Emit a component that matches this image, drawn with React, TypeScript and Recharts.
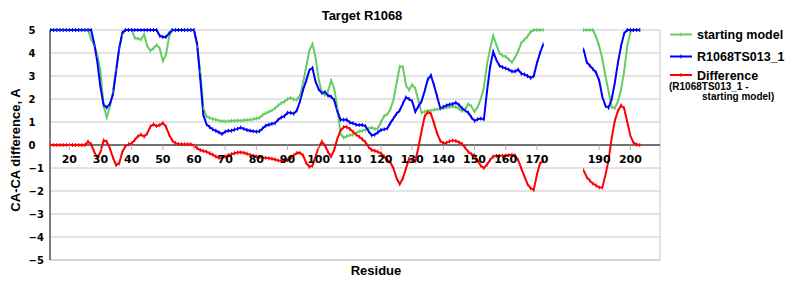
import React from 'react';
import { LineChart, Line, XAxis, YAxis, CartesianGrid, ReferenceLine } from 'recharts';

// Residue numbering starts at 14; one value per residue (14..203), null = missing
const FIRST_RESIDUE = 14;

const startingModel: (number | null)[] = [
  /*14*/ 5, 5, 5, 5, 5, 5,
  /*20*/ 5, 5, 5, 5, 5, 5, 5, 4.6, 4.35, 3.9,
  /*30*/ 3.2, 1.7, 1.2, 1.65, 2.3, 3.25, 4.2, 4.8, 5, 5,
  /*40*/ 5, 4.66, 4.62, 4.58, 4.8, 4.3, 4.1, 4.2, 4.35, 4.2,
  /*50*/ 3.65, 3.93, 4.7, 5, 5, 5, 5, 5, 5, 5,
  /*60*/ 5, 4.3, 3.2, 1.6, 1.25, 1.18, 1.13, 1.1, 1.06, 1.04,
  /*70*/ 1.02, 1.03, 1.05, 1.05, 1.06, 1.06, 1.08, 1.09, 1.1, 1.12,
  /*80*/ 1.15, 1.18, 1.3, 1.38, 1.44, 1.5, 1.6, 1.72, 1.83, 1.88,
  /*90*/ 2.0, 2.05, 1.98, 1.97, 2.15, 2.7, 3.4, 4.1, 4.4, 3.8,
  /*100*/ 2.85, 2.3, 2.18, 2.35, 2.8, 2.45, 1.6, 0.5, 0.32, 0.38,
  /*110*/ 0.42, 0.45, 0.52, 0.6, 0.62, 0.66, 0.72, 0.76, 0.7, 0.72,
  /*120*/ 1.0, 1.26, 1.34, 1.55, 1.97, 2.7, 3.4, 3.4, 2.6, 2.4,
  /*130*/ 2.62, 2.45, 1.92, 1.4, 1.45, 1.48, 1.5, 1.53, 1.55, 1.57,
  /*140*/ 1.6, 1.63, 1.65, 1.67, 1.65, 1.58, 1.48, 1.55, 1.78, 1.68,
  /*150*/ 1.45, 1.65, 2.0, 2.5, 3.5, 4.2, 4.75, 4.35, 4.0, 3.88,
  /*160*/ 3.85, 3.72, 3.6, 3.8, 4.08, 4.44, 4.58, 4.72, 4.92, 5,
  /*170*/ 5, 5, 5, null, null, null, null, null, null, null,
  /*180*/ null, null, null, null, null, 5, 5, 5, 5, 4.7,
  /*190*/ 4.3, 3.75, 3.0, 2.33, 1.65, 1.6, 1.9, 2.4, 3.2, 4.3,
  /*200*/ 4.9, 5, 5, 5,
];

const r1068TS013: (number | null)[] = [
  /*14*/ 5, 5, 5, 5, 5, 5,
  /*20*/ 5, 5, 5, 5, 5, 5, 5, 5, 4.4, 3.6,
  /*30*/ 2.5, 1.75, 1.63, 1.78, 2.2, 3.2, 4.2, 4.88, 5, 5,
  /*40*/ 5, 5, 5, 5, 5, 5, 5, 5, 5, 4.75,
  /*50*/ 4.7, 4.7, 4.85, 5, 5, 5, 5, 5, 5, 5,
  /*60*/ 5, 4.4, 2.9, 1.3, 0.9, 0.78, 0.68, 0.62, 0.55, 0.48,
  /*70*/ 0.58, 0.62, 0.62, 0.67, 0.7, 0.76, 0.7, 0.65, 0.62, 0.6,
  /*80*/ 0.58, 0.6, 0.72, 0.84, 0.88, 0.92, 0.95, 1.1, 1.2, 1.25,
  /*90*/ 1.4, 1.4, 1.36, 1.5, 1.9, 2.4, 2.8, 3.25, 3.35, 2.75,
  /*100*/ 2.42, 2.26, 2.3, 2.15, 2.1, 1.95, 1.46, 1.1, 1.1, 1.1,
  /*110*/ 0.98, 0.95, 0.88, 0.87, 0.87, 0.82, 0.6, 0.42, 0.45, 0.55,
  /*120*/ 0.65, 0.68, 0.72, 0.95, 1.16, 1.36, 1.5, 1.8, 2.07, 2.0,
  /*130*/ 1.9, 1.45, 1.68, 1.9, 2.35, 2.85, 3.03, 2.6, 2.11, 1.6,
  /*140*/ 1.66, 1.72, 1.76, 1.78, 1.84, 1.75, 1.6, 1.5, 1.4, 1.2,
  /*150*/ 1.05, 1.12, 1.15, 1.12, 2.33, 3.4, 4.05, 3.7, 3.45, 3.38,
  /*160*/ 3.33, 3.28, 3.2, 3.2, 3.28, 3.1, 3.07, 3.0, 2.92, 3.0,
  /*170*/ 3.55, 4.0, 4.37, null, null, null, null, null, null, null,
  /*180*/ null, null, null, null, null, 4.15, 3.6, 3.45, 3.3, 3.15,
  /*190*/ 2.8, 2.1, 1.7, 1.62, 2.0, 2.7, 3.57, 4.3, 4.85, 5,
  /*200*/ 5, 5, 5, 5,
];

const difference: (number | null)[] = [
  /*14*/ 0, 0, 0, 0, 0, 0,
  /*20*/ 0, 0, 0, 0, 0, 0, 0.15, 0.03, -0.3, -0.55,
  /*30*/ -0.3, 0.2, 0.15, -0.15, -0.55, -0.87, -0.8, -0.3, -0.05, 0.03,
  /*40*/ 0.07, 0.22, 0.38, 0.45, 0.37, 0.5, 0.8, 0.9, 0.82, 0.87,
  /*50*/ 0.95, 0.8, 0.45, 0.2, 0.08, 0.04, 0.03, 0.03, 0.03, 0.03,
  /*60*/ -0.03, -0.14, -0.22, -0.26, -0.29, -0.36, -0.42, -0.5, -0.56, -0.55,
  /*70*/ -0.5, -0.44, -0.4, -0.36, -0.33, -0.32, -0.34, -0.38, -0.43, -0.47,
  /*80*/ -0.5, -0.52, -0.54, -0.56, -0.58, -0.6, -0.63, -0.67, -0.69, -0.7,
  /*90*/ -0.66, -0.58, -0.45, -0.35, -0.34, -0.45, -0.78, -0.95, -0.9, -0.5,
  /*100*/ -0.1, 0.15, -0.02, -0.3, -0.5, -0.2, 0.28, 0.62, 0.78, 0.78,
  /*110*/ 0.7, 0.58, 0.45, 0.36, 0.25, 0.12, -0.08, -0.22, -0.25, -0.3,
  /*120*/ -0.36, -0.5, -0.65, -0.76, -1.02, -1.45, -1.7, -1.45, -1.02, -0.6,
  /*130*/ -0.65, -0.7, -0.1, 0.6, 1.24, 1.43, 1.36, 0.95, 0.5, 0.18,
  /*140*/ 0.08, 0.1, 0.16, 0.2, 0.18, 0.12, 0.05, -0.12, -0.3, -0.4,
  /*150*/ -0.45, -0.68, -0.9, -1.0, -0.85, -0.65, -0.5, -0.47, -0.47, -0.47,
  /*160*/ -0.46, -0.44, -0.42, -0.45, -0.66, -1.02, -1.36, -1.7, -1.88, -1.95,
  /*170*/ -1.3, -0.8, -0.7, null, null, null, null, null, null, null,
  /*180*/ null, null, null, null, null, -1.1, -1.4, -1.55, -1.68, -1.76,
  /*190*/ -1.85, -1.85, -1.3, -0.66, 0.3, 1.05, 1.48, 1.72, 1.6, 1.0,
  /*200*/ 0.4, 0.1, 0.02, 0,
];

const xTicks = [20, 30, 40, 50, 60, 70, 80, 90, 100, 110, 120, 130, 140, 150, 160, 170, 190, 200];
const yTicks = [-5, -4, -3, -2, -1, 0, 1, 2, 3, 4, 5];

const SERIES = [
  { key: 'start', name: 'starting model', color: '#66cc66' },
  { key: 'model', name: 'R1068TS013_1', color: '#0000ff' },
  { key: 'diff', name: 'Difference', color: '#ff0000' },
];

const data = startingModel.map((v, i) => ({
  residue: FIRST_RESIDUE + i,
  start: v,
  model: r1068TS013[i],
  diff: difference[i],
}));

const PLOT_TOP = 30;
const PLOT_BOTTOM = 260;
const ZERO_Y = (PLOT_TOP + PLOT_BOTTOM) / 2;

const tickFont = { fontFamily: 'DejaVu Sans', fontWeight: 'bold' as const };
const labelFont = { fontFamily: 'Liberation Sans, Arial, sans-serif', fontWeight: 'bold' as const };

const XTick = (props: any) => {
  const { x, payload } = props;
  return (
    <g>
      <line x1={x} x2={x} y1={ZERO_Y} y2={ZERO_Y + 5} stroke="#b0b0b0" />
      <text x={x} y={ZERO_Y + 18} textAnchor="middle" fontSize={11} fill="#000" style={tickFont}>
        {payload.value}
      </text>
    </g>
  );
};

const YTick = (props: any) => {
  const { x, y, payload } = props;
  const v = payload.value;
  return (
    <text x={x - 21.5} y={y + 4} textAnchor="start" fontSize={10} fill="#000" style={tickFont}>
      {v < 0 ? `\u2212${Math.abs(v)}` : v}
    </text>
  );
};

const makeDot = (color: string) => (props: any) => {
  const { cx, cy, index } = props;
  if (cx == null || cy == null || Number.isNaN(cy)) return <g key={`n-${index}`} />;
  return <line key={`d-${index}`} x1={cx} x2={cx} y1={cy - 2} y2={cy + 2} stroke={color} strokeWidth={1} />;
};

export default function App() {
  return (
    <div style={{ position: 'absolute', left: 0, top: 0, width: 800, height: 300, background: '#fff' }}>
      <LineChart width={800} height={300} data={data} margin={{ top: PLOT_TOP, right: 140, bottom: 10, left: 0 }}>
        <CartesianGrid horizontal vertical={false} stroke="#c8c8c8" />
        <XAxis
          type="number"
          dataKey="residue"
          domain={[13.8, 209.5]}
          ticks={xTicks}
          interval={0}
          height={30}
          axisLine={{ stroke: '#c8c8c8' }}
          tickLine={false}
          tick={<XTick />}
        />
        <YAxis
          domain={[-5, 5]}
          ticks={yTicks}
          interval={0}
          width={50}
          axisLine={{ stroke: '#000' }}
          tickLine={false}
          tickSize={0}
          tickMargin={0}
          tick={<YTick />}
        />
        <ReferenceLine x={209.5} stroke="#c8c8c8" />
        <ReferenceLine y={0} stroke="#000" />
        {SERIES.map((s) => (
          <Line
            key={s.key}
            type="linear"
            dataKey={s.key}
            name={s.name}
            stroke={s.color}
            strokeWidth={2}
            dot={makeDot(s.color)}
            activeDot={false}
            isAnimationActive={false}
          />
        ))}
      </LineChart>
      <svg width={800} height={300} style={{ position: 'absolute', left: 0, top: 0, pointerEvents: 'none' }}>
        <text x={362} y={20} textAnchor="middle" fontSize={13} style={labelFont}>Target R1068</text>
        <text x={376} y={275} textAnchor="middle" fontSize={13} style={labelFont}>Residue</text>
        <text transform="translate(20,150) rotate(-90)" textAnchor="middle" fontSize={13} style={labelFont}>
          CA-CA difference, A
        </text>
        {SERIES.map((s, i) => {
          const ly = [34.5, 56.5, 75][i];
          const ty = [38.5, 60.5, 79.5][i];
          return (
            <g key={s.key}>
              <line x1={670} x2={692} y1={ly} y2={ly} stroke={s.color} strokeWidth={2} />
              <line x1={681} x2={681} y1={ly - 2} y2={ly + 2} stroke={s.color} strokeWidth={1} />
              <text x={697} y={ty} fontSize={12.5} style={labelFont}>{s.name}</text>
            </g>
          );
        })}
        <text x={669} y={90} fontSize={10} style={labelFont}>(R1068TS013_1 -</text>
        <text x={702} y={100} fontSize={10} style={labelFont}>starting model)</text>
      </svg>
    </div>
  );
}
